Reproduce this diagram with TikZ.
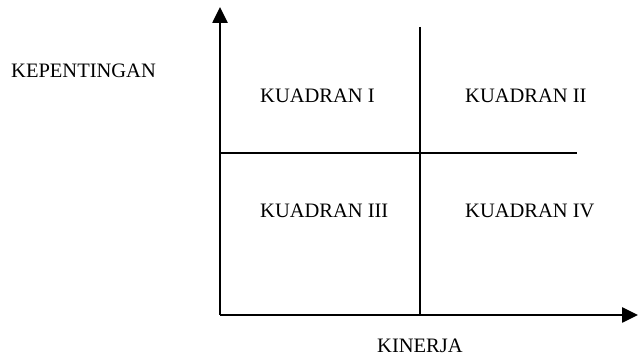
\documentclass[tikz,border=0pt]{standalone}
\usepackage{fontspec}
\setmainfont{Liberation Serif}
\usetikzlibrary{arrows.meta}
\tikzset{
  axis/.style={line width=2.6pt,-{Triangle[length=16pt,width=15pt]}},
  divider/.style={line width=1.8pt},
  lbl/.style={anchor=base west,inner sep=0pt,font=\fontsize{20.5}{24}\selectfont}
}
\begin{document}
\begin{tikzpicture}[x=1pt,y=-1pt]
\useasboundingbox (0,0) rectangle (638,358);
% axes
\coordinate (origin) at (220,315);
\coordinate (ytip) at (220,7);
\coordinate (xtip) at (638,315);
\draw[axis] (origin) -- (ytip);
\draw[axis] (origin) -- (xtip);
% quadrant dividers
\coordinate (vtop) at (420,27);
\coordinate (vbot) at (420,315);
\coordinate (hleft) at (220,153);
\coordinate (hright) at (577,153);
\draw[divider] (vtop) -- (vbot);
\draw[divider] (hleft) -- (hright);
% labels
\node[lbl] (kep) at (11,78) {KEPENTINGAN};
\node[lbl] (q1) at (260,103) {KUADRAN I};
\node[lbl] (q2) at (465,103) {KUADRAN II};
\node[lbl] (q3) at (260,218) {KUADRAN III};
\node[lbl] (q4) at (465,218) {KUADRAN IV};
\node[lbl] (kin) at (377,353) {KINERJA};
\end{tikzpicture}
\end{document}
